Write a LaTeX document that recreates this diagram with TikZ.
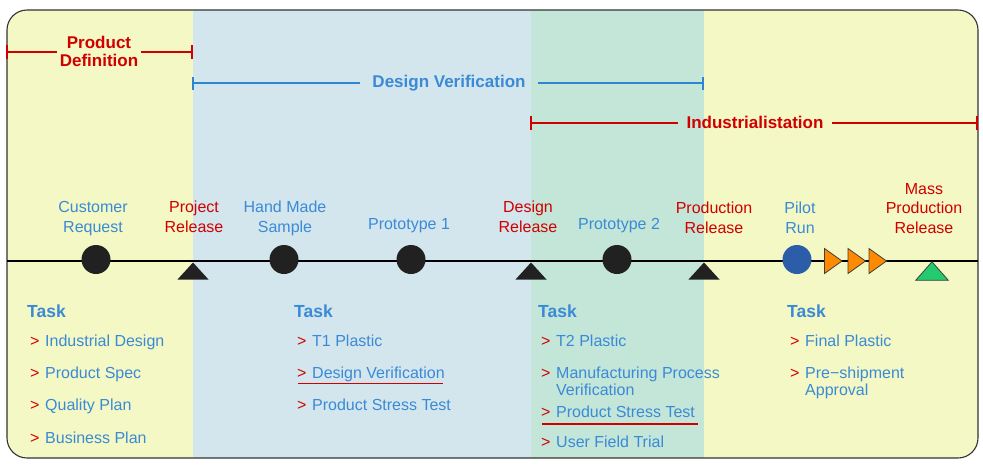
\documentclass[tikz,border=0pt]{standalone}
\usepackage{fontspec}
\setmainfont{Liberation Sans}
\definecolor{tblue}{HTML}{3A8AD6}
\definecolor{tred}{HTML}{D00000}
\definecolor{pyellow}{HTML}{F4F8C4}
\definecolor{pblue}{HTML}{D3E6EE}
\definecolor{pgreen}{HTML}{C3E6D9}
\definecolor{lineblue}{HTML}{2F86D0}
\definecolor{pilotc}{HTML}{2B5DA8}
\definecolor{orangef}{HTML}{FF8A00}
\definecolor{greenf}{HTML}{22CC6E}
\begin{document}
\begin{tikzpicture}[x=1pt,y=-1pt,
  lbl/.style={inner sep=0pt, align=center, anchor=base, font=\fontsize{16}{19.5}\selectfont},
  bl/.style={lbl, text=tblue},
  rl/.style={lbl, text=tred},
  task/.style={inner sep=0pt, anchor=base west, text=tblue, font=\fontsize{17.5}{20}\selectfont\bfseries},
  gt/.style={inner sep=0pt, anchor=base west, text=tred, font=\fontsize{16}{18}\selectfont},
  item/.style={inner sep=0pt, anchor=base west, text=tblue, align=left, font=\fontsize{16}{17.8}\selectfont},
  brk/.style={inner ysep=0pt, anchor=base, align=center, font=\fontsize{17}{17.7}\selectfont\bfseries},
  rbar/.style={draw=tred, line width=2pt},
  bbar/.style={draw=lineblue, line width=2pt},
  dot/.style={circle, inner sep=0pt, minimum size=29pt, fill=black!87},
  ul/.style={draw=tred, line width=1.1pt},
  msblk/.pic={\fill[black!87] (0,0) -- (15.5,17) -- (-15.5,17) -- cycle;},
  msgrn/.pic={\filldraw[fill=greenf, draw=black!75, line width=0.8pt] (0,0) -- (16.3,18.5) -- (-16.3,18.5) -- cycle;},
  runtri/.pic={\filldraw[fill=orangef, draw=black!75, line width=0.8pt] (0,-12.5) -- (17.5,0) -- (0,12.5) -- cycle;}
]
\useasboundingbox (0,0) rectangle (983,469);
% panels
\begin{scope}
\clip[rounded corners=20pt] (7,10) rectangle (978,458);
\fill[pyellow] (7,10) rectangle (193,458);
\fill[pblue] (193,10) rectangle (531,458);
\fill[pgreen] (531,10) rectangle (704,458);
\fill[pyellow] (704,10) rectangle (978,458);
\end{scope}
\draw[black!80, line width=1.1pt, rounded corners=20pt] (7,10) rectangle (978,458);

% brackets
\node[brk, text=tred, inner xsep=3pt] (pd) at (99,66) {Product\\Definition};
\coordinate (pdL) at (7,52);
\coordinate (pdR) at (192,52);
\draw[rbar] (pdL) -- (pd.west |- pdL);
\draw[rbar] (pd.east |- pdR) -- (pdR);
\draw[rbar] ([yshift=-7pt]pdL) -- ([yshift=7pt]pdL);
\draw[rbar] ([yshift=-7pt]pdR) -- ([yshift=7pt]pdR);

\node[brk, text=tblue, inner xsep=12pt] (dv) at (449,87.3) {Design Verification};
\coordinate (dvL) at (193,83);
\coordinate (dvR) at (703,83);
\draw[bbar] (dvL) -- (dv.west |- dvL);
\draw[bbar] (dv.east |- dvR) -- (dvR);
\draw[bbar] ([yshift=-6.5pt]dvL) -- ([yshift=6.5pt]dvL);
\draw[bbar] ([yshift=-6.5pt]dvR) -- ([yshift=6.5pt]dvR);

\node[brk, text=tred, inner xsep=8.5pt] (ind) at (755,128.3) {Industrialistation};
\coordinate (inL) at (531,123);
\coordinate (inR) at (977,123);
\draw[rbar] (inL) -- (ind.west |- inL);
\draw[rbar] (ind.east |- inR) -- (inR);
\draw[rbar] ([yshift=-7pt]inL) -- ([yshift=7pt]inL);
\draw[rbar] ([yshift=-7pt]inR) -- ([yshift=7pt]inR);

% timeline
\coordinate (tlL) at (7,261);
\coordinate (tlR) at (978,261);
\draw[black, line width=2pt] (tlL) -- (tlR);

% milestones
\node[dot] (cr) at (96,259.5) {};
\node[dot] (hm) at (284,259.5) {};
\node[dot] (p1) at (411,259.5) {};
\node[dot] (p2) at (617,259.5) {};
\node[dot, fill=pilotc] (pr) at (797,259.5) {};
\pic at (193,262.5) {msblk};
\pic at (531,262.5) {msblk};
\pic at (704,262.5) {msblk};
\pic at (932,261.8) {msgrn};
\pic at (824.5,261) {runtri};
\pic at (848,261) {runtri};
\pic at (869,261) {runtri};

% labels above (base = last line)
\node[bl] (lcr) at (93,232) {Customer\\Request};
\node[rl] (lpr) at (194,232) {Project\\Release};
\node[bl] (lhm) at (285,232) {Hand Made\\Sample};
\node[bl] (lp1) at (409,229) {Prototype 1};
\node[rl] (ldr) at (528,232) {Design\\Release};
\node[bl] (lp2) at (619,229) {Prototype 2};
\node[rl] (lpd) at (714,233) {Production\\Release};
\node[bl] (lpi) at (800,233) {Pilot\\Run};
\node[rl] (lmp) at (924,233) {Mass\\Production\\Release};

% task 1
\node[task] (t1) at (27,317) {Task};
\node[gt] (g11) at (30,346) {>};
\node[item] (i11) at (45,346) {Industrial Design};
\node[gt] (g12) at (30,378) {>};
\node[item] (i12) at (45,378) {Product Spec};
\node[gt] (g13) at (30,410) {>};
\node[item] (i13) at (45,410) {Quality Plan};
\node[gt] (g14) at (30,443) {>};
\node[item] (i14) at (45,443) {Business Plan};

% task 2
\node[task] (t2) at (294,317) {Task};
\node[gt] (g21) at (297,346) {>};
\node[item] (i21) at (312,346) {T1 Plastic};
\node[gt] (g22) at (297,378) {>};
\node[item] (i22) at (312,378) {Design Verification};
\node[gt] (g23) at (297,410) {>};
\node[item] (i23) at (312,410) {Product Stress Test};
\coordinate (u2a) at (298,383.3);
\coordinate (u2b) at (443,383.3);
\draw[ul] (u2a) -- (u2b);

% task 3
\node[task] (t3) at (538,317) {Task};
\node[gt] (g31) at (541,346) {>};
\node[item] (i31) at (556,346) {T2 Plastic};
\node[gt] (g32) at (541,378) {>};
\node[item] (i32) at (556,395.8) {Manufacturing Process\\Verification};
\node[gt] (g33) at (541,417.7) {>};
\node[item] (i33) at (556,417.7) {Product Stress Test};
\node[gt] (g34) at (541,447.7) {>};
\node[item] (i34) at (556,447.7) {User Field Trial};
\coordinate (u3a) at (542,424);
\coordinate (u3b) at (698,424);
\draw[ul] (u3a) -- (u3b);

% task 4
\node[task] (t4) at (787,317) {Task};
\node[gt] (g41) at (790,346) {>};
\node[item] (i41) at (805,346) {Final Plastic};
\node[gt] (g42) at (790,378) {>};
\node[item] (i42) at (805,395.8) {Pre−shipment\\Approval};
\end{tikzpicture}
\end{document}
